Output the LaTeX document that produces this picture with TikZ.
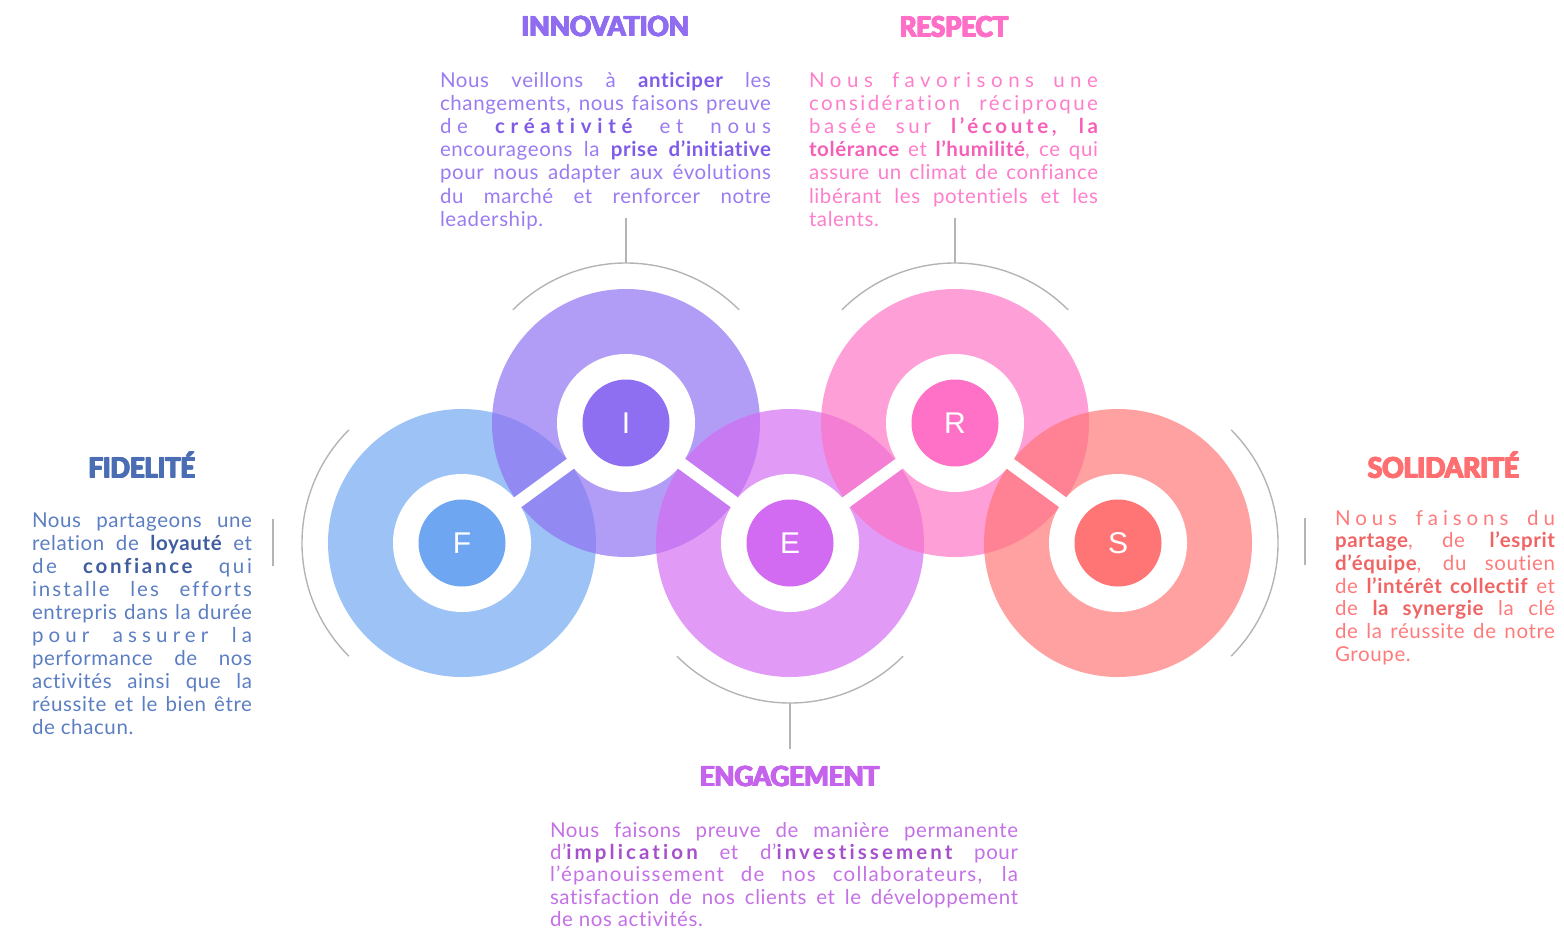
\documentclass[tikz,border=0pt]{standalone}
\usepackage{fontspec}
\usepackage{graphicx}
\setmainfont{Lato}[LetterSpace=3, Ligatures=CommonOff]
\newfontfamily\tfont{Lato}
\newfontfamily\lfont{Liberation Sans}
\definecolor{cF}{HTML}{6FA6F2}
\definecolor{cI}{HTML}{8E6FF2}
\definecolor{cE}{HTML}{D36BF2}
\definecolor{cR}{HTML}{FF71C6}
\definecolor{cS}{HTML}{FF7575}
\definecolor{tF}{HTML}{4A6DB3}
\definecolor{tI}{HTML}{8F6CF0}
\definecolor{tE}{HTML}{C563EC}
\definecolor{tR}{HTML}{FF6EC7}
\definecolor{tS}{HTML}{FF6E70}
\definecolor{bF}{HTML}{5B7EC2}
\definecolor{bI}{HTML}{9A7BF2}
\definecolor{bE}{HTML}{C470E6}
\definecolor{bR}{HTML}{FF7ECB}
\definecolor{bS}{HTML}{FF7B7B}
\definecolor{kF}{HTML}{3F5D9F}
\definecolor{kI}{HTML}{7F5BE8}
\definecolor{kE}{HTML}{A650CC}
\definecolor{kR}{HTML}{F55FB8}
\definecolor{kS}{HTML}{F06464}
\definecolor{gline}{HTML}{B4B4B4}
\newcommand\jl[1]{\hbox to \linewidth{#1}}
\newcommand\lastl[1]{\hbox{#1}}
\newcommand\B[1]{{\color{kcol}\bfseries #1}}
\newcommand\LS[1]{\addfontfeature{LetterSpace=#1}}
\newcommand\heavy[1]{%
  \rlap{#1}\rlap{\kern.2pt#1}\rlap{\kern.4pt#1}\rlap{\kern.6pt#1}%
  \rlap{\raise.2pt\hbox{#1}}\rlap{\kern.2pt\raise.2pt\hbox{#1}}%
  \rlap{\kern.4pt\raise.2pt\hbox{#1}}\rlap{\kern.6pt\raise.2pt\hbox{#1}}%
  \kern.6pt\hphantom{#1}}
\newcommand\ttl[2]{\resizebox{#1}{20bp}{\tfont\bfseries\smash{\heavy{#2}}\vphantom{X}}}
\tikzset{
  disc/.style={circle, minimum size=268bp, inner sep=0pt, outer sep=0pt, draw=none, fill opacity=0.68},
  wring/.style={circle, minimum size=138bp, inner sep=0pt, outer sep=0pt, fill=white},
  dot/.style={circle, minimum size=87bp, inner sep=0pt, outer sep=0pt, text=white, font=\lfont\fontsize{30bp}{30bp}\selectfont},
  arcc/.style={circle, minimum size=320bp, inner sep=0pt, outer sep=0pt},
  gl/.style={draw=gline, line width=1.4bp},
  bar/.style={white, line width=12bp},
  body/.style={anchor=base west, inner sep=0pt, outer sep=0pt},
  title/.style={anchor=base, inner sep=0pt, outer sep=0pt},
}
\begin{document}
\begin{tikzpicture}[x=1bp, y=-1bp]
\useasboundingbox (0,0) rectangle (1564,931);
% outer discs
\node[disc, fill=cF] (F) at (462,543) {};
\node[disc, fill=cI] (I) at (626,423) {};
\node[disc, fill=cE] (E) at (790,543) {};
\node[disc, fill=cR] (R) at (955,423) {};
\node[disc, fill=cS] (S) at (1118,543) {};
% white links and rings
\draw[bar] (F.center) -- (I.center) -- (E.center) -- (R.center) -- (S.center);
\node[wring] (Fw) at (F) {};
\node[wring] (Iw) at (I) {};
\node[wring] (Ew) at (E) {};
\node[wring] (Rw) at (R) {};
\node[wring] (Sw) at (S) {};
% inner dots
\node[dot, fill=cF] (Fd) at (F) {F};
\node[dot, fill=cI] (Id) at (I) {I};
\node[dot, fill=cE] (Ed) at (E) {E};
\node[dot, fill=cR] (Rd) at (R) {R};
\node[dot, fill=cS] (Sd) at (S) {S};
% gray arcs
\node[arcc] (Fa) at (F) {};
\node[arcc] (Ia) at (I) {};
\node[arcc] (Ea) at (E) {};
\node[arcc] (Ra) at (R) {};
\node[arcc] (Sa) at (S) {};
\draw[gl] (Fa.135) arc[start angle=135, end angle=225, radius=160bp];
\draw[gl] (Ia.45) arc[start angle=45, end angle=135, radius=160bp];
\draw[gl] (Ea.225) arc[start angle=225, end angle=315, radius=160bp];
\draw[gl] (Ra.45) arc[start angle=45, end angle=135, radius=160bp];
\draw[gl] (Sa.-45) arc[start angle=-45, end angle=45, radius=160bp];
\coordinate (Itk) at (626,218);
\coordinate (Rtk) at (955,218);
\coordinate (Etk) at (790,749);
\draw[gl] (Ia.north) -- (Itk);
\draw[gl] (Ra.north) -- (Rtk);
\draw[gl] (Ea.south) -- (Etk);
\coordinate (Ft1) at (273,519);
\coordinate (Ft2) at (273,566);
\coordinate (St1) at (1305,518);
\coordinate (St2) at (1305,565);
\draw[gl] (Ft1) -- (Ft2);
\draw[gl] (St1) -- (St2);
% titles
\node[title, text=tI] (TI) at (605.4,36.7) {\ttl{169bp}{INNOVATION}};
\node[title, text=tR] (TR) at (954,37.3) {\ttl{110bp}{RESPECT}};
\node[title, text=tF] (TF) at (142,478) {\ttl{108bp}{FIDELITÉ}};
\node[title, text=tS] (TS) at (1443.5,478) {\ttl{153bp}{SOLIDARITÉ}};
\node[title, text=tE] (TE) at (789.5,786.7) {\ttl{181bp}{ENGAGEMENT}};
% body texts
\colorlet{kcol}{kI}
\node[body, text=bI] (XI) at (440,87) {\fontsize{20.5bp}{23.2bp}\selectfont\parbox[t]{331bp}{%
\jl{Nous veillons à \B{anticiper} les}
\jl{changements, nous faisons preuve}
\jl{\LS{28}de \B{créativité} et nous}
\jl{encourageons la \B{prise d’initiative}}
\jl{pour nous adapter aux évolutions}
\jl{du marché et renforcer notre}
\lastl{leadership.}}};
\colorlet{kcol}{kR}
\node[body, text=bR] (XR) at (809,87) {\fontsize{20.5bp}{23.2bp}\selectfont\parbox[t]{289bp}{%
\jl{\LS{27}Nous favorisons une}
\jl{\LS{12}considération réciproque}
\jl{\LS{18}basée sur \B{l’écoute, la}}
\jl{\B{tolérance} et \B{l’humilité}, ce qui}
\jl{assure un climat de confiance}
\jl{libérant les potentiels et les}
\lastl{talents.}}};
\colorlet{kcol}{kF}
\node[body, text=bF] (XF) at (32,527) {\fontsize{20.5bp}{23bp}\selectfont\parbox[t]{220bp}{%
\jl{Nous partageons une}
\jl{relation de \B{loyauté} et}
\jl{\LS{13}de \B{confiance} qui}
\jl{\LS{10}installe les efforts}
\jl{entrepris dans la durée}
\jl{\LS{25}pour assurer la}
\jl{performance de nos}
\jl{activités ainsi que la}
\jl{réussite et le bien être}
\lastl{de chacun.}}};
\colorlet{kcol}{kS}
\node[body, text=bS] (XS) at (1335,525) {\fontsize{20.5bp}{22.7bp}\selectfont\parbox[t]{220bp}{%
\jl{\LS{24}Nous faisons du}
\jl{\B{partage}, de \B{l’esprit}}
\jl{\B{d’équipe}, du soutien}
\jl{de \B{l’intérêt collectif} et}
\jl{de \B{la synergie} la clé}
\jl{de la réussite de notre}
\lastl{Groupe.}}};
\colorlet{kcol}{kE}
\node[body, text=bE] (XE) at (550,837) {\fontsize{20.5bp}{22.4bp}\selectfont\parbox[t]{468bp}{%
\jl{Nous faisons preuve de manière permanente}
\jl{d’{\LS{15}\B{implication}} et d’{\LS{15}\B{investissement}} pour}
\jl{\LS{6}l’épanouissement de nos collaborateurs, la}
\jl{satisfaction de nos clients et le développement}
\lastl{de nos activités.}}};
\end{tikzpicture}
\end{document}
